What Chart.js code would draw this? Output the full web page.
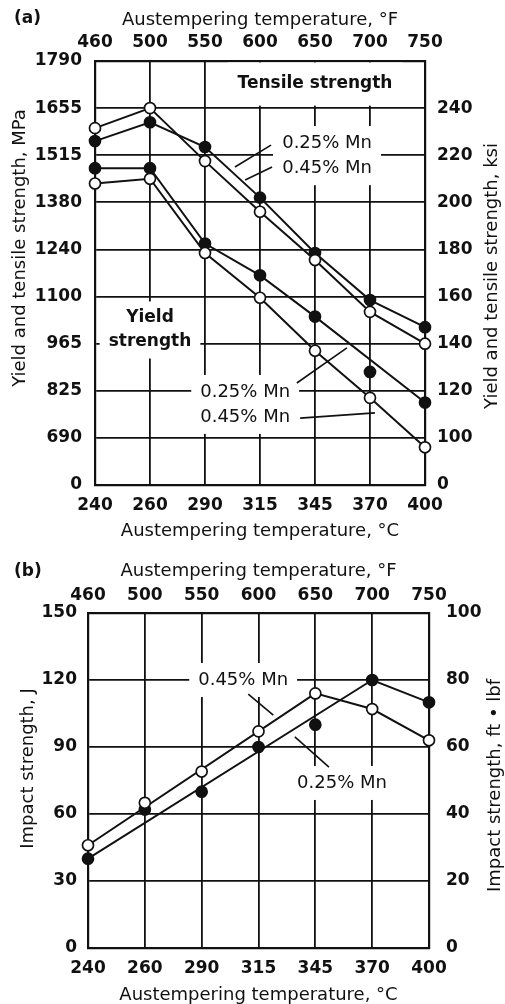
<!DOCTYPE html>
<html>
<head>
<meta charset="utf-8">
<script src="https://cdn.jsdelivr.net/npm/chart.js@4/dist/chart.umd.min.js"></script>
<style>
  html, body { margin: 0; padding: 0; background: #fff; }
  .panel { position: relative; width: 505px; }
  #panelA { height: 545px; }
  #panelB { height: 459px; }
</style>
</head>
<body>
<div class="panel" id="panelA"><canvas id="chartA"></canvas></div>
<div class="panel" id="panelB"><canvas id="chartB"></canvas></div>
<script>
// shared temperature axes
const celsius = ['240', '260', '290', '315', '345', '370', '400'];
const fahrenheit = ['460', '500', '550', '600', '650', '700', '750'];

// (a) strength, plotted in ksi; the axis is broken so its lowest tick reads 0
const mpaTickLabels = ['0', '690', '825', '965', '1100', '1240', '1380', '1515', '1655', '1790'];
const ksiTickLabels = ['0', '100', '120', '140', '160', '180', '200', '220', '240', ''];
const tensile025 = [226, 234, 223.5, 202, 178.5, 158.5, 147];
const tensile045 = [231.5, 240, 217.5, 196, 175.5, 153.5, 140];
const yield025 = [214.5, 214.5, 182.5, 169, 151.5, 128, 115];
const yield025Line = [214.5, 214.5, 182.5, 169, 151.5, null, 115];
const yield045 = [208, 210, 178.5, 159.5, 137, 117, 96];

// (b) impact strength, J (right axis in ft-lbf)
const impact025 = [40, 62, 70, 90, 100, 120, 110];
const impact025Line = [40, null, null, null, null, 120, 110];
const impact045 = [46, 65, 79, 97, 114, 107, 93];
const impact045Line = [46, null, null, null, 114, 107, 93];

const INK = '#111';
const FAMILY = '"DejaVu Sans", "Liberation Sans", sans-serif';
const tickFont = { family: FAMILY, size: 17, weight: 'bold' };
const titleFont = { family: FAMILY, size: 18, lineHeight: 1 };

const lineSet = (data) => ({
  data, borderColor: INK, borderWidth: 2, pointRadius: 0, spanGaps: true, tension: 0, fill: false, order: 2
});
const dotSet = (data, filled) => ({
  data, showLine: false, pointRadius: 5.5, pointBorderWidth: 1.7, pointBorderColor: INK,
  pointBackgroundColor: filled ? INK : '#fff', order: 1
});

// text labels with white backing, and their leader lines
const annotate = {
  id: 'annotate',
  beforeDatasetsDraw(chart, args, opts) {
    const { ctx, chartArea: a, scales: { x, y } } = chart;
    const px = (i) => x.getPixelForValue(i);
    const py = (v) => y.getPixelForValue(v);
    ctx.save();
    ctx.beginPath();
    ctx.rect(a.left + 1.5, a.top + 1.5, a.right - a.left - 3, a.bottom - a.top - 3);
    ctx.clip();
    ctx.textAlign = 'center';
    ctx.textBaseline = 'middle';
    for (const t of opts.texts) {
      ctx.font = (t.bold ? 'bold 17px ' : '18px ') + FAMILY;
      const w = ctx.measureText(t.text).width;
      const h = t.bold ? 17 : 18;
      const pad = t.pad || [9, 8];
      ctx.fillStyle = '#fff';
      ctx.fillRect(px(t.i) - w / 2 - pad[0], py(t.v) - h / 2 - pad[1], w + 2 * pad[0], h + 2 * pad[1]);
    }
    ctx.fillStyle = INK;
    for (const t of opts.texts) {
      ctx.font = (t.bold ? 'bold 17px ' : '18px ') + FAMILY;
      ctx.fillText(t.text, px(t.i), py(t.v));
    }
    ctx.strokeStyle = INK;
    ctx.lineWidth = 1.6;
    for (const l of opts.leaders) {
      ctx.beginPath();
      ctx.moveTo(px(l[0][0]), py(l[0][1]));
      ctx.lineTo(px(l[1][0]), py(l[1][1]));
      ctx.stroke();
    }
    ctx.restore();
  }
};

// rotated side titles (both read bottom-to-top) and the panel letter
const sideTitles = {
  id: 'sideTitles',
  afterDraw(chart, args, opts) {
    const { ctx, chartArea: a } = chart;
    const mid = (a.top + a.bottom) / 2;
    ctx.save();
    ctx.fillStyle = INK;
    ctx.textAlign = 'center';
    ctx.textBaseline = 'middle';
    ctx.font = '18px ' + FAMILY;
    for (const t of opts.items) {
      ctx.save();
      ctx.translate(t.x, mid + t.dy);
      ctx.rotate(-Math.PI / 2);
      ctx.fillText(t.text, 0, 0);
      ctx.restore();
    }
    ctx.font = 'bold 17px ' + FAMILY;
    ctx.textAlign = 'left';
    ctx.fillText(opts.letter, 14, opts.letterY);
    ctx.restore();
  }
};

function panelOptions(p) {
  return {
    responsive: true,
    maintainAspectRatio: false,
    animation: false,
    layout: { padding: 0 },
    plugins: {
      legend: { display: false },
      tooltip: { enabled: false },
      annotate: p.annotate,
      sideTitles: p.sideTitles
    },
    scales: {
      x: {
        type: 'category', position: 'bottom', offset: false,
        grid: { color: INK, lineWidth: 1.8, drawTicks: false },
        border: { color: INK, width: 2.2 },
        ticks: { font: tickFont, color: INK, padding: p.bottomPad, maxRotation: 0, autoSkip: false },
        title: { display: true, text: 'Austempering temperature, °C', font: titleFont, color: INK,
                 padding: { top: 0, bottom: p.bottomTitlePad } },
        afterFit(s) { s.height = p.bottomH; }
      },
      x2: {
        type: 'category', position: 'top', offset: false, labels: fahrenheit,
        grid: { display: false, drawTicks: false },
        border: { color: INK, width: 2.2 },
        ticks: { font: tickFont, color: INK, padding: p.topPad, maxRotation: 0, autoSkip: false },
        title: { display: true, text: 'Austempering temperature, °F', font: titleFont, color: INK,
                 padding: { top: p.topTitlePad, bottom: 0 } },
        afterFit(s) { s.height = p.topH; }
      },
      y: {
        type: 'linear', position: 'left', min: p.yMin, max: p.yMax,
        grid: { color: INK, lineWidth: 1.8, drawTicks: false },
        border: { color: INK, width: 2.2 },
        ticks: { stepSize: p.yStep, font: tickFont, color: INK, padding: p.leftPad,
                 callback: p.leftLabel },
        afterFit(s) { s.width = p.leftW; }
      },
      y2: {
        type: 'linear', position: 'right', min: p.y2Min, max: p.y2Max,
        grid: { display: false, drawTicks: false },
        border: { color: INK, width: 2.2 },
        ticks: { stepSize: p.y2Step, font: tickFont, color: INK, padding: p.rightPad,
                 callback: p.rightLabel },
        afterFit(s) { s.width = p.rightW; }
      }
    }
  };
}

new Chart(document.getElementById('chartA'), {
  type: 'line',
  data: {
    labels: celsius,
    datasets: [
      lineSet(tensile025), lineSet(tensile045), lineSet(yield025Line), lineSet(yield045),
      dotSet(tensile045, false), dotSet(tensile025, true), dotSet(yield045, false), dotSet(yield025, true)
    ]
  },
  options: panelOptions({
    topH: 61, bottomH: 60, leftW: 95, rightW: 80,
    topPad: 8, bottomPad: 10, topTitlePad: 11, bottomTitlePad: 5, leftPad: 13, rightPad: 12,
    yMin: 80, yMax: 260, yStep: 20, y2Min: 80, y2Max: 260, y2Step: 20,
    leftLabel: (v, i) => mpaTickLabels[i],
    rightLabel: (v, i) => ksiTickLabels[i],
    annotate: {
      texts: [
        { text: 'Tensile strength', i: 4.0, v: 250.6, bold: true, pad: [10, 14] },
        { text: '0.25% Mn', i: 4.22, v: 225.2 },
        { text: '0.45% Mn', i: 4.22, v: 214.5 },
        { text: 'Yield', i: 1.0, v: 150.9, bold: true },
        { text: 'strength', i: 1.0, v: 140.7, bold: true },
        { text: '0.25% Mn', i: 2.73, v: 119.5 },
        { text: '0.45% Mn', i: 2.73, v: 108.9 }
      ],
      leaders: [
        [[3.2, 224.3], [2.545, 215]],
        [[3.22, 215], [2.73, 209.5]],
        [[3.67, 123.3], [4.58, 138.2]],
        [[3.73, 108.4], [5.09, 110.6]]
      ]
    },
    sideTitles: {
      letter: '(a)', letterY: 19,
      items: [
        { text: 'Yield and tensile strength, MPa', x: 20, dy: -25 },
        { text: 'Yield and tensile strength, ksi', x: 492, dy: 3 }
      ]
    }
  }),
  plugins: [annotate, sideTitles]
});

new Chart(document.getElementById('chartB'), {
  type: 'line',
  data: {
    labels: celsius,
    datasets: [
      lineSet(impact025Line), lineSet(impact045Line),
      dotSet(impact045, false), dotSet(impact025, true)
    ]
  },
  options: panelOptions({
    topH: 68, bottomH: 56, leftW: 88, rightW: 76,
    topPad: 7, bottomPad: 10, topTitlePad: 17, bottomTitlePad: 0, leftPad: 11, rightPad: 17,
    yMin: 0, yMax: 150, yStep: 30, y2Min: 0, y2Max: 100, y2Step: 20,
    leftLabel: (v) => String(v),
    rightLabel: (v) => String(v),
    annotate: {
      texts: [
        { text: '0.45% Mn', i: 2.73, v: 120 },
        { text: '0.25% Mn', i: 4.47, v: 73.9 }
      ],
      leaders: [
        [[2.82, 113.7], [3.26, 104.3]],
        [[4.24, 81], [3.64, 94.5]]
      ]
    },
    sideTitles: {
      letter: '(b)', letterY: 27,
      items: [
        { text: 'Impact strength, J', x: 28, dy: -12 },
        { text: 'Impact strength, ft • lbf', x: 495, dy: 5 }
      ]
    }
  }),
  plugins: [annotate, sideTitles]
});
</script>
</body>
</html>
